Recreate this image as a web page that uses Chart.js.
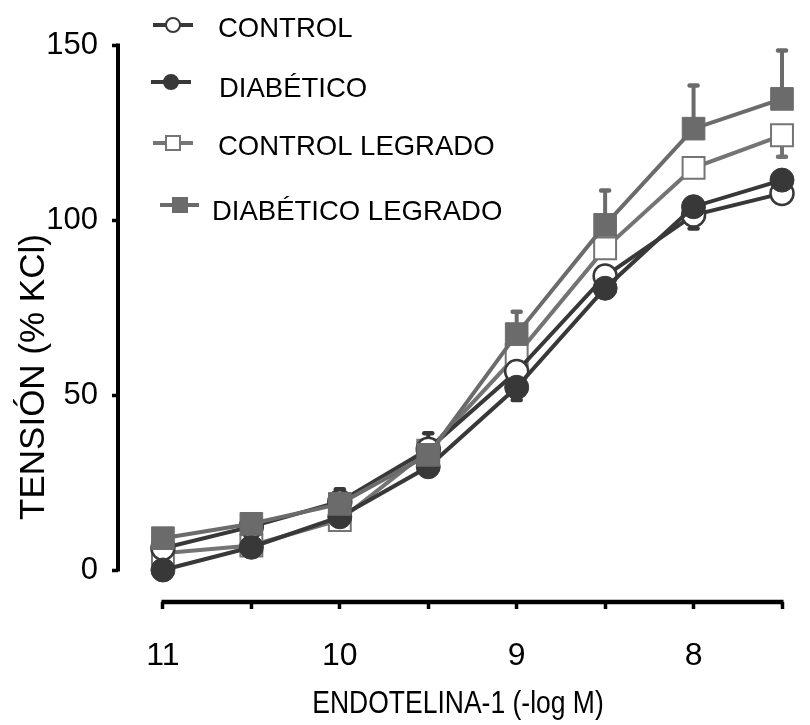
<!DOCTYPE html>
<html>
<head>
<meta charset="utf-8">
<script src="https://cdn.jsdelivr.net/npm/chart.js@4"></script>
<style>
html,body{margin:0;padding:0;background:#fff;}
#wrap{position:relative;width:810px;height:725px;}
</style>
</head>
<body>
<div id="wrap"><canvas id="c" width="810" height="725"></canvas></div>
<script>
// ---- data ----
const concentrations = [11, 10.5, 10, 9.5, 9, 8.5, 8, 7.5];   // -log M
const xTickValues    = [11, 10.5, 10, 9.5, 9, 8.5, 8, 7.5];
const xTickLabels    = ['11', '', '10', '', '9', '', '8', ''];
const yTickValues    = [0, 50, 100, 150];
const seriesNames    = ['CONTROL', 'DIABÉTICO', 'CONTROL LEGRADO', 'DIABÉTICO LEGRADO'];

const control     = [6.2, 12.4, 19.5, 34.5, 56.7, 84.0, 101.4, 107.6];
const diabetico   = [0.0, 6.5, 15.2, 29.5, 52.2, 80.5, 103.8, 111.4];
const controlLeg  = [4.8, 7.0, 14.3, 34.1, 61.4, 91.9, 114.9, 124.2];
const diabLeg     = [9.1, 13.2, 18.9, 32.9, 67.4, 98.6, 126.1, 134.6];

// SEM (sign = direction in which the one-sided error bar is drawn; 0 = hidden)
const controlErr    = [0, 0, 3.6, 4.6, 0, 0, -3.8, 0];
const diabeticoErr  = [0, 0, 0, 0, -3.6, 0, 0, -3.7];
const controlLegErr = [0, 0, 0, 0, 0, 0, 0, -6.1];
const diabLegErr    = [0, 0, 0, 0, 6.4, 9.8, 12.3, 13.8];

const FONT = '"Liberation Sans", Arial, Helvetica, sans-serif';
const DARK = '#383838';
const GREY = '#6b6b6b';

function pts(vals) { return vals.map((v, i) => ({ x: concentrations[i], y: v })); }

const datasets = [
  { label: seriesNames[0], data: pts(control), errors: controlErr,
    borderColor: DARK, pointBackgroundColor: '#ffffff', pointBorderColor: DARK,
    pointStyle: 'circle', pointRadius: 11.5, pointBorderWidth: 2.5, order: 3 },
  { label: seriesNames[1], data: pts(diabetico), errors: diabeticoErr,
    borderColor: DARK, pointBackgroundColor: DARK, pointBorderColor: DARK,
    pointStyle: 'circle', pointRadius: 12, pointBorderWidth: 1, order: 2 },
  { label: seriesNames[2], data: pts(controlLeg), errors: controlLegErr,
    borderColor: '#747474', pointBackgroundColor: '#ffffff', pointBorderColor: '#747474',
    pointStyle: 'rect', pointRadius: 15.5, pointBorderWidth: 2, order: 4 },
  { label: seriesNames[3], data: pts(diabLeg), errors: diabLegErr,
    borderColor: GREY, pointBackgroundColor: GREY, pointBorderColor: GREY,
    pointStyle: 'rect', pointRadius: 16, pointBorderWidth: 1, order: 1 }
];
datasets.forEach(d => { d.borderWidth = 4; d.tension = 0; d.clip = false; d.fill = false; });

const legendLayout = [
  { my: 25,  lx0: 153, lx1: 193, mx: 173, tx: 218, ty: 36.5 },
  { my: 82,  lx0: 151, lx1: 191, mx: 171, tx: 219, ty: 96.5 },
  { my: 143, lx0: 153, lx1: 193, mx: 173, tx: 218, ty: 155 },
  { my: 205, lx0: 160, lx1: 199, mx: 180, tx: 212, ty: 220 }
];

const custom = {
  id: 'custom',
  beforeDatasetsDraw(chart) {
    const { ctx, scales: { x, y } } = chart;
    chart.data.datasets.forEach(ds => {
      ds.data.forEach((p, j) => {
        const e = ds.errors[j];
        if (!e) return;
        const px = x.getPixelForValue(p.x);
        const py0 = y.getPixelForValue(p.y);
        const py1 = y.getPixelForValue(p.y + e);
        ctx.save();
        ctx.strokeStyle = ds.borderColor;
        ctx.lineWidth = 4;
        ctx.beginPath(); ctx.moveTo(px, py0); ctx.lineTo(px, py1); ctx.stroke();
        ctx.lineCap = 'round'; ctx.lineWidth = 4.5;
        ctx.beginPath(); ctx.moveTo(px - 4, py1); ctx.lineTo(px + 4, py1); ctx.stroke();
        ctx.restore();
      });
    });
  },
  afterDraw(chart) {
    const { ctx, chartArea, scales: { x, y } } = chart;
    ctx.save();
    // axis lines (Prism style, detached)
    ctx.strokeStyle = '#000';
    ctx.lineWidth = 4;
    ctx.beginPath();
    ctx.moveTo(chartArea.left, y.getPixelForValue(yTickValues[0]) + 1.5);
    ctx.lineTo(chartArea.left, y.getPixelForValue(yTickValues[yTickValues.length - 1]) - 1.5);
    ctx.stroke();
    ctx.lineWidth = 4.5;
    ctx.beginPath();
    ctx.moveTo(x.getPixelForValue(xTickValues[0]) - 1.5, chartArea.bottom);
    ctx.lineTo(x.getPixelForValue(xTickValues[xTickValues.length - 1]) + 1.5, chartArea.bottom);
    ctx.stroke();

    // legend
    chart.data.datasets.forEach((ds, i) => {
      const L = legendLayout[i];
      ctx.strokeStyle = ds.borderColor;
      ctx.lineWidth = 4;
      ctx.beginPath(); ctx.moveTo(L.lx0, L.my); ctx.lineTo(L.lx1, L.my); ctx.stroke();
      ctx.fillStyle = ds.pointBackgroundColor;
      ctx.strokeStyle = ds.pointBorderColor;
      ctx.lineWidth = 2;
      ctx.beginPath();
      if (ds.pointStyle === 'circle') ctx.arc(L.mx, L.my, 7, 0, Math.PI * 2);
      else ctx.rect(L.mx - 7, L.my - 7, 14, 14);
      ctx.fill(); ctx.stroke();
      ctx.fillStyle = '#000';
      ctx.font = '27.5px ' + FONT;
      ctx.textAlign = 'left';
      ctx.textBaseline = 'alphabetic';
      ctx.fillText(ds.label, L.tx, L.ty);
    });

    // axis titles
    ctx.fillStyle = '#000';
    ctx.font = '35px ' + FONT;
    ctx.textAlign = 'center';
    ctx.textBaseline = 'alphabetic';
    ctx.save();
    ctx.translate(44, 377);
    ctx.rotate(-Math.PI / 2);
    ctx.fillText('TENSIÓN (% KCl)', 0, 0);
    ctx.restore();
    ctx.save();
    ctx.font = '26.5px ' + FONT;
    ctx.translate((chartArea.left + chartArea.right) / 2 + 8, 713);
    ctx.scale(1, 1.2);
    ctx.fillText('ENDOTELINA-1 (-log M)', 0, 0);
    ctx.restore();
    ctx.restore();
  }
};

new Chart(document.getElementById('c'), {
  type: 'line',
  data: { datasets },
  options: {
    responsive: false,
    animation: false,
    layout: { padding: { top: 45, right: 12.5, left: 0, bottom: 0 } },
    plugins: { legend: { display: false }, tooltip: { enabled: false } },
    scales: {
      x: {
        type: 'linear', reverse: true, min: 7.5, max: 11.254,
        afterBuildTicks: s => { s.ticks = xTickValues.map(v => ({ value: v })); },
        afterFit: s => { s.height = 123; },
        ticks: {
          autoSkip: false, maxRotation: 0, padding: 28, color: '#000',
          font: { family: FONT, size: 32 },
          callback: v => xTickLabels[xTickValues.indexOf(v)]
        },
        grid: { drawOnChartArea: false, drawTicks: true, tickLength: 7, tickWidth: 3.5, tickColor: '#000' },
        border: { display: false }
      },
      y: {
        type: 'linear', min: -9.14, max: 150,
        afterBuildTicks: s => { s.ticks = yTickValues.map(v => ({ value: v })); },
        afterFit: s => { s.width = 118; },
        ticks: { padding: 14, color: '#000', font: { family: FONT, size: 31 } },
        grid: { drawOnChartArea: false, drawTicks: true, tickLength: 6, tickWidth: 3.5, tickColor: '#000' },
        border: { display: false }
      }
    }
  },
  plugins: [custom]
});
</script>
</body>
</html>
